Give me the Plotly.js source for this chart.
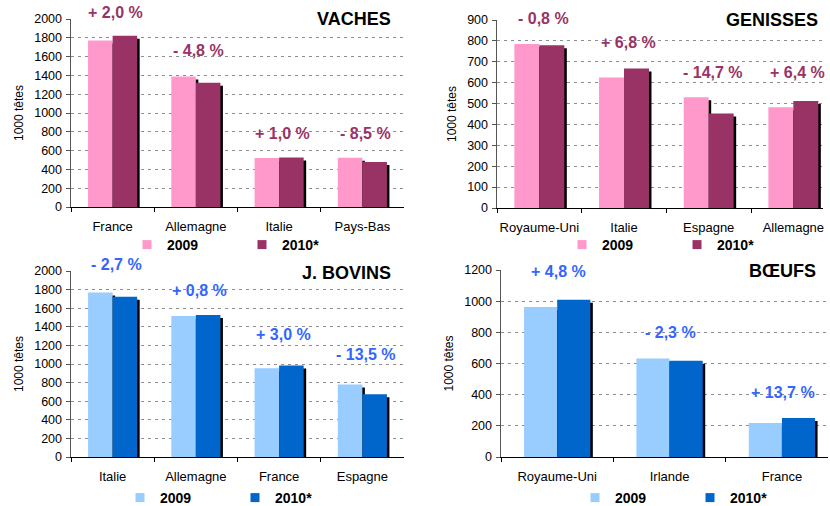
<!DOCTYPE html>
<html>
<head>
<meta charset="utf-8">
<script src="https://cdn.plot.ly/plotly-3.0.1.min.js"></script>
<style>
html,body{margin:0;padding:0;background:#fff;}
#chart{width:830px;height:506px;}
</style>
</head>
<body>
<div id="chart"></div>
<script>
// ---------- DATA ----------
const yearsLegend = ['2009', '2010*'];

const vachesCats = ['France', 'Allemagne', 'Italie', 'Pays-Bas'];
const vaches2009 = [1770, 1387, 522, 523];
const vaches2010 = [1823, 1322, 527, 479];
const vachesPct = ['+ 2,0 %', '- 4,8 %', '+ 1,0 %', '- 8,5 %'];

const genissesCats = ['Royaume-Uni', 'Italie', 'Espagne', 'Allemagne'];
const genisses2009 = [785, 625, 530, 482];
const genisses2010 = [779, 668, 452, 512];
const genissesPct = ['- 0,8 %', '+ 6,8 %', '- 14,7 %', '+ 6,4 %'];

const bovinsCats = ['Italie', 'Allemagne', 'France', 'Espagne'];
const bovins2009 = [1770, 1517, 955, 780];
const bovins2010 = [1722, 1528, 983, 675];
const bovinsPct = ['- 2,7 %', '+ 0,8 %', '+ 3,0 %', '- 13,5 %'];

const boeufsCats = ['Royaume-Uni', 'Irlande', 'France'];
const boeufs2009 = [963, 632, 218];
const boeufs2010 = [1009, 617, 250];
const boeufsPct = ['+ 4,8 %', '- 2,3 %', '+ 13,7 %'];

// ---------- STYLE / GEOMETRY ----------
const W = 830, H = 506;
const fx = px => px / W;          // pixel -> paper x
const fy = py => 1 - py / H;      // pixel -> paper y

const FONT = '"Liberation Sans", Arial, sans-serif';
const pink = ['#FF99CC', '#993366'];
const blue = ['#99CCFF', '#0066CC'];
const pinkLbl = '#993366';
const blueLbl = '#3366FF';

// panel geometry in pixels: left, right, top, bottom
const panels = [
  {title: 'VACHES',   cats: vachesCats,   v: [vaches2009, vaches2010],   pct: vachesPct,   col: pink, lbl: pinkLbl,
   px: [71, 404, 19, 207],   ymax: 2000, dtick: 200, xr: 3.5,  lblY: [2074, 1670, 787, 787], lblShift: 3,
   titleX: 393, titleY: 19,  legX: 127, legY: 245},
  {title: 'GENISSES', cats: genissesCats, v: [genisses2009, genisses2010], pct: genissesPct, col: pink, lbl: pinkLbl,
   px: [497, 823, 20, 208],  ymax: 900,  dtick: 100, xr: 3.35, lblY: [909, 790, 651, 651], lblShift: 4,
   titleX: 820, titleY: 20,  legX: 562, legY: 245},
  {title: 'J. BOVINS', cats: bovinsCats,  v: [bovins2009, bovins2010],   pct: bovinsPct,   col: blue, lbl: blueLbl,
   px: [71, 404, 271, 457],  ymax: 2000, dtick: 200, xr: 3.5,  lblY: [2068, 1785, 1312, 1097], lblShift: 4,
   titleX: 393, titleY: 273, legX: 120, legY: 498},
  {title: 'BŒUFS',    cats: boeufsCats,   v: [boeufs2009, boeufs2010],   pct: boeufsPct,   col: blue, lbl: blueLbl,
   px: [501, 828, 270, 457], ymax: 1200, dtick: 200, xr: 2.41, lblY: [1192, 802, 417], lblShift: 1,
   titleX: 818, titleY: 271, legX: 575, legY: 498}
];

const traces = [];
const layout = {
  width: W, height: H,
  margin: {l: 0, r: 0, t: 0, b: 0, pad: 0, autoexpand: false},
  paper_bgcolor: '#ffffff', plot_bgcolor: '#ffffff',
  font: {family: FONT, color: '#000'},
  barmode: 'overlay',
  annotations: [],
  showlegend: true
};

const BW = 0.295;   // bar width in category units

panels.forEach((p, i) => {
  const n = i + 1;
  const sfx = n === 1 ? '' : String(n);
  const xa = 'x' + sfx, ya = 'y' + sfx;
  const legKey = 'legend' + sfx;
  const [L, R, T, B] = p.px;
  const catW = (R - L) / (p.xr + 0.5);
  const sdx = 2.5 / catW;                    // shadow shift (category units)
  const sdy = 3 * p.ymax / (B - T);          // shadow shift (data units)

  [0, 1].forEach(s => {
    const off = s === 0 ? -BW : 0;
    traces.push({
      type: 'bar', x: p.cats, y: p.v[s], base: -sdy,
      offset: off + sdx, width: BW,
      marker: {color: '#000000', line: {width: 0}},
      xaxis: xa, yaxis: ya, showlegend: false, hoverinfo: 'skip'
    });
    traces.push({
      type: 'bar', x: p.cats, y: p.v[s],
      offset: off, width: BW,
      marker: {color: p.col[s], line: {width: 0}},
      name: yearsLegend[s],
      xaxis: xa, yaxis: ya, showlegend: false
    });
  });
  [0, 1].forEach(s => {
    traces.push({
      type: 'scatter', mode: 'markers', x: [null], y: [null],
      marker: {symbol: 'square', size: 9, color: p.col[s]},
      name: yearsLegend[s], legend: legKey,
      xaxis: xa, yaxis: ya, showlegend: true, hoverinfo: 'skip'
    });
  });

  layout['xaxis' + sfx] = {
    domain: [fx(L), fx(R)], anchor: ya,
    type: 'category', range: [-0.5, p.xr],
    showline: true, linecolor: '#000', linewidth: 1,
    ticks: 'outside', tickson: 'boundaries', ticklen: 4, tickcolor: '#000', tickwidth: 1,
    showgrid: false, zeroline: false, tickangle: 0,
    tickfont: {family: FONT, size: 13, color: '#000'},
    ticklabelstandoff: 7,
    fixedrange: true
  };
  layout['yaxis' + sfx] = {
    domain: [fy(B), fy(T)], anchor: xa,
    range: [0, p.ymax], dtick: p.dtick, tick0: 0,
    showline: true, linecolor: '#555', linewidth: 1.5,
    ticks: 'outside', ticklen: 4, tickcolor: '#555', tickwidth: 1,
    showgrid: true, gridcolor: '#8c8c8c', gridwidth: 1, griddash: '3px,4px',
    zeroline: false,
    tickfont: {family: FONT, size: 12.5, color: '#000'},
    ticklabelstandoff: 1,
    title: {text: '1000 têtes', font: {family: FONT, size: 12, color: '#000'}, standoff: 8},
    fixedrange: true
  };
  layout[legKey] = {
    orientation: 'h',
    x: fx(p.legX), y: fy(p.legY),
    xanchor: 'left', yanchor: 'middle',
    entrywidth: 70, entrywidthmode: 'pixels',
    font: {family: FONT, size: 14, color: '#000', weight: 'bold'},
    bgcolor: 'rgba(0,0,0,0)', borderwidth: 0,
    itemwidth: 30, tracegroupgap: 0
  };

  p.pct.forEach((t, k) => {
    layout.annotations.push({
      xref: xa, yref: ya + ' domain', x: p.cats[k], y: p.lblY[k] / p.ymax,
      text: '<b>' + t + '</b>', showarrow: false,
      xshift: p.lblShift, yanchor: 'middle', xanchor: 'center',
      font: {family: FONT, size: 16, color: p.lbl}
    });
  });
  layout.annotations.push({
    xref: 'paper', yref: 'paper', x: fx(p.titleX), y: fy(p.titleY),
    xanchor: 'right', yanchor: 'middle', showarrow: false,
    text: '<b>' + p.title + '</b>',
    font: {family: FONT, size: 18, color: '#000'}
  });
});

Plotly.newPlot('chart', traces, layout, {displayModeBar: false, staticPlot: true});
</script>
</body>
</html>
